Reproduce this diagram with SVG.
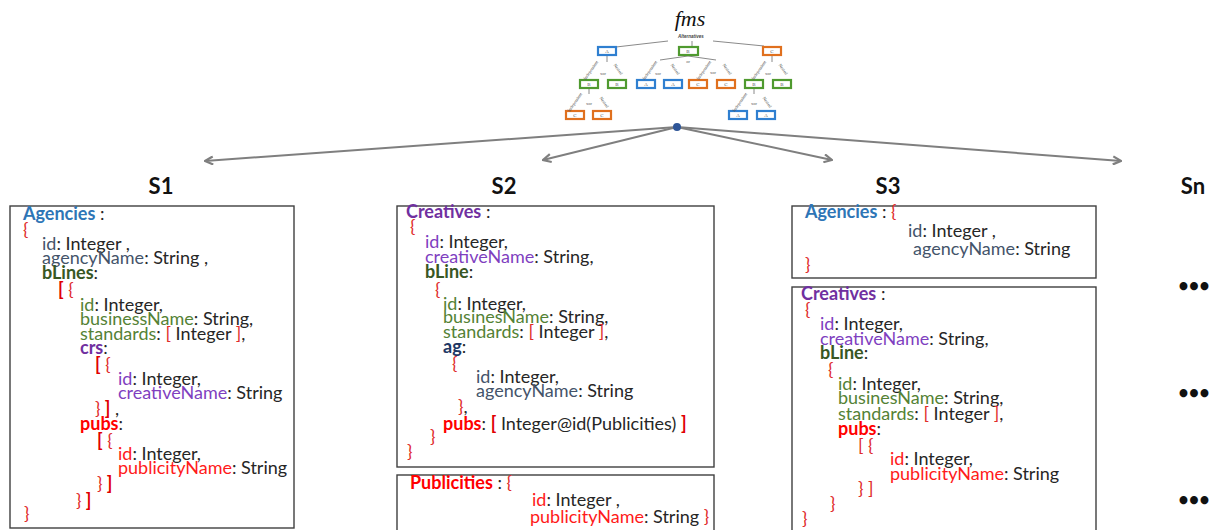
<svg xmlns="http://www.w3.org/2000/svg" width="1215" height="530" viewBox="0 0 1215 530">
<defs>
<marker id="ah" viewBox="0 0 10 10" refX="9" refY="5" markerWidth="5" markerHeight="5" orient="auto" markerUnits="strokeWidth">
<path d="M1,1 L9,5 L1,9" fill="none" stroke="#7f7f7f" stroke-width="2.2" stroke-linejoin="miter"/>
</marker>
<style>
.t{font-family:Lato,"Liberation Sans",sans-serif;font-size:18px;fill:#262626}
.hd{font-family:Lato,"Liberation Sans",sans-serif;font-size:22px;font-weight:bold;fill:#111}
.agT{fill:#2e75b6;font-weight:bold}
.ag{fill:#44546a}
.agB{fill:#1f3864;font-weight:bold}
.bl{fill:#385723;font-weight:bold}
.bf{fill:#548235}
.crT{fill:#7030a0;font-weight:bold}
.cf{fill:#7f3fbf}
.pb{fill:#ff0000;font-weight:bold}
.pf{fill:#ff1a1a}
.br{fill:#e02b2b}
.bk{fill:#e00000;font-weight:bold}
.box{fill:#fff;stroke:#3f3f3f;stroke-width:1.4}
.conn{stroke:#7f7f7f;stroke-width:2;fill:none}
.tb{fill:#fff;stroke-width:2.2}
.tbA{stroke:#2f7fd0}
.tbB{stroke:#4f9a2f}
.tbC{stroke:#e0701e}
.tl{font-family:"Liberation Serif",serif;font-size:5px;fill:#555;text-anchor:middle}
.tx{font-family:"Liberation Serif",serif;font-size:4.5px;fill:#555;text-anchor:middle}
.tr{stroke:#8a8a8a;stroke-width:1;fill:none}
.dots{font-family:Lato,"Liberation Sans",sans-serif;font-size:18px;font-weight:bold;fill:#111}
</style>
</defs>
<rect width="1215" height="530" fill="#fff"/>

<g id="fms-tree">
<text x="690" y="26" font-family="Liberation Serif,serif" font-style="italic" font-size="22" text-anchor="middle" fill="#111">fms</text>
<text x="691" y="38" font-family="Liberation Sans,sans-serif" font-style="italic" font-weight="bold" font-size="4.5" text-anchor="middle" fill="#444">Alternatives</text>
<path class="tr" d="M668,41 L616,47 M713,41 L764,46 M692,41 L692,47"/>
<path class="tr" d="M607,56 L607,62 M772,56 L772,62 M589,89 L589,94 M754,89 L754,94 M688,56 L660,60 M688,56 L716,60"/>
<g id="t-A"><rect class="tb tbA" x="598" y="47" width="18" height="8"/><text class="tl" x="607" y="53">A</text></g>
<g id="t-B"><rect class="tb tbB" x="679" y="47" width="19" height="8"/><text class="tl" x="688" y="53">B</text></g>
<g id="t-C"><rect class="tb tbC" x="763" y="47" width="18" height="8"/><text class="tl" x="772" y="53">C</text></g>
<text class="tx" x="688" y="63">or</text>
<g id="t-l2">
<rect class="tb tbB" x="580" y="80" width="18" height="8"/><text class="tl" x="589" y="86">B</text>
<rect class="tb tbB" x="608" y="80" width="18" height="8"/><text class="tl" x="617" y="86">B</text>
<rect class="tb tbA" x="637" y="80" width="18" height="8"/><text class="tl" x="646" y="86">A</text>
<rect class="tb tbA" x="664" y="80" width="18" height="8"/><text class="tl" x="673" y="86">A</text>
<rect class="tb tbC" x="689" y="80" width="18" height="8"/><text class="tl" x="698" y="86">C</text>
<rect class="tb tbC" x="717" y="80" width="18" height="8"/><text class="tl" x="726" y="86">C</text>
<rect class="tb tbB" x="745" y="80" width="18" height="8"/><text class="tl" x="754" y="86">B</text>
<rect class="tb tbB" x="773" y="80" width="18" height="8"/><text class="tl" x="782" y="86">B</text>
</g>
<g id="t-l3">
<rect class="tb tbC" x="566" y="111" width="18" height="8"/><text class="tl" x="575" y="117">C</text>
<rect class="tb tbC" x="593" y="111" width="18" height="8"/><text class="tl" x="602" y="117">C</text>
<rect class="tb tbA" x="729" y="111" width="18" height="8"/><text class="tl" x="738" y="117">A</text>
<rect class="tb tbA" x="757" y="111" width="18" height="8"/><text class="tl" x="766" y="117">A</text>
</g>
<g id="t-labels">
<text class="tx" x="603" y="75">xor</text>
<text class="tx" x="658" y="75">xor</text>
<text class="tx" x="713" y="74">xor</text>
<text class="tx" x="768" y="75">xor</text>
<text class="tx" x="589" y="105">xor</text>
<text class="tx" x="754" y="105">xor</text>
<text class="tx" transform="translate(592,71) rotate(-55)">Independent</text>
<text class="tx" transform="translate(617,70) rotate(55)">Nested</text>
<text class="tx" transform="translate(651,71) rotate(-55)">Independent</text>
<text class="tx" transform="translate(674,70) rotate(55)">Nested</text>
<text class="tx" transform="translate(705,71) rotate(-55)">Independent</text>
<text class="tx" transform="translate(726,70) rotate(55)">Nested</text>
<text class="tx" transform="translate(760,71) rotate(-55)">Independent</text>
<text class="tx" transform="translate(782,70) rotate(55)">Nested</text>
<text class="tx" transform="translate(576,103) rotate(-55)">Independent</text>
<text class="tx" transform="translate(603,103) rotate(55)">Nested</text>
<text class="tx" transform="translate(741,103) rotate(-55)">Independent</text>
<text class="tx" transform="translate(766,103) rotate(55)">Nested</text>
</g>
</g>

<g id="connectors">
<line class="conn" x1="677" y1="127" x2="205" y2="161" marker-end="url(#ah)"/>
<line class="conn" x1="677" y1="127" x2="543" y2="160" marker-end="url(#ah)"/>
<line class="conn" x1="677" y1="127" x2="832" y2="160" marker-end="url(#ah)"/>
<line class="conn" x1="677" y1="127" x2="1121" y2="161" marker-end="url(#ah)"/>
<circle cx="677" cy="127" r="4" fill="#2e5597"/>
</g>

<g id="S1">
<text class="hd" x="161" y="194" text-anchor="middle">S1</text>
<rect class="box" x="10" y="206" width="284" height="322"/>
<text class="t">
<tspan x="23" y="220"><tspan class="agT">Agencies</tspan> :</tspan>
<tspan x="23" y="236" class="br">{</tspan>
<tspan x="42" y="250"><tspan class="ag">id</tspan>: Integer ,</tspan>
<tspan x="42" y="264"><tspan class="ag">agencyName</tspan>: String ,</tspan>
<tspan x="42" y="279"><tspan class="bl">bLines</tspan>:</tspan>
<tspan x="58" y="296"><tspan class="bk">[</tspan><tspan class="br"> {</tspan></tspan>
<tspan x="80" y="311"><tspan class="bf">id</tspan>: Integer,</tspan>
<tspan x="80" y="325"><tspan class="bf">businessName</tspan>: String,</tspan>
<tspan x="80" y="340"><tspan class="bf">standards</tspan>: <tspan class="br">[</tspan> Integer <tspan class="br">]</tspan>,</tspan>
<tspan x="80" y="354"><tspan class="crT">crs</tspan>:</tspan>
<tspan x="95" y="371"><tspan class="bk">[</tspan><tspan class="br"> {</tspan></tspan>
<tspan x="118" y="385"><tspan class="cf">id</tspan>: Integer,</tspan>
<tspan x="118" y="399"><tspan class="cf">creativeName</tspan>: String</tspan>
<tspan x="95" y="415"><tspan class="br">}</tspan><tspan class="bk"> ]</tspan> ,</tspan>
<tspan x="80" y="430"><tspan class="pb">pubs</tspan>:</tspan>
<tspan x="97" y="447"><tspan class="bk">[</tspan><tspan class="br"> {</tspan></tspan>
<tspan x="118" y="460"><tspan class="pf">id</tspan>: Integer,</tspan>
<tspan x="118" y="474"><tspan class="pf">publicityName</tspan>: String</tspan>
<tspan x="97" y="490"><tspan class="br">}</tspan><tspan class="bk"> ]</tspan></tspan>
<tspan x="76" y="507"><tspan class="br">}</tspan><tspan class="bk"> ]</tspan></tspan>
<tspan x="24" y="520" class="br">}</tspan>
</text>
</g>

<g id="S2">
<text class="hd" x="504" y="194" text-anchor="middle">S2</text>
<rect class="box" x="397" y="206" width="317" height="261"/>
<text class="t">
<tspan x="406" y="218"><tspan class="crT">Creatives</tspan> :</tspan>
<tspan x="410" y="233" class="br">{</tspan>
<tspan x="425" y="248"><tspan class="cf">id</tspan>: Integer,</tspan>
<tspan x="425" y="263"><tspan class="cf">creativeName</tspan>: String,</tspan>
<tspan x="425" y="278"><tspan class="bl">bLine</tspan>:</tspan>
<tspan x="435" y="296" class="br">{</tspan>
<tspan x="443" y="310"><tspan class="bf">id</tspan>: Integer,</tspan>
<tspan x="443" y="323"><tspan class="bf">businesName</tspan>: String,</tspan>
<tspan x="443" y="338"><tspan class="bf">standards</tspan>: <tspan class="br">[</tspan> Integer <tspan class="br">]</tspan>,</tspan>
<tspan x="443" y="353"><tspan class="agB">ag</tspan>:</tspan>
<tspan x="452" y="370" class="br">{</tspan>
<tspan x="476" y="383"><tspan class="ag">id</tspan>: Integer,</tspan>
<tspan x="476" y="397"><tspan class="ag">agencyName</tspan>: String</tspan>
<tspan x="458" y="413"><tspan class="br">}</tspan>,</tspan>
<tspan x="443" y="430"><tspan class="pb">pubs</tspan>: <tspan class="bk">[</tspan> Integer@id(Publicities) <tspan class="bk">]</tspan></tspan>
<tspan x="430" y="443" class="br">}</tspan>
<tspan x="407" y="458" class="br">}</tspan>
</text>
</g>

<g id="S2-publicities">
<rect class="box" x="397" y="475" width="317" height="70"/>
<text class="t">
<tspan x="410" y="489"><tspan class="pb">Publicities</tspan> : <tspan class="br">{</tspan></tspan>
<tspan x="532" y="506"><tspan class="pf">id</tspan>: Integer ,</tspan>
<tspan x="530" y="523"><tspan class="pf">publicityName</tspan>: String <tspan class="br">}</tspan></tspan>
</text>
</g>

<g id="S3">
<text class="hd" x="888" y="194" text-anchor="middle">S3</text>
</g>

<g id="S3-agencies">
<rect class="box" x="792" y="206" width="304" height="72"/>
<text class="t">
<tspan x="805" y="218"><tspan class="agT">Agencies</tspan> : <tspan class="br">{</tspan></tspan>
<tspan x="908" y="237"><tspan class="ag">id</tspan>: Integer ,</tspan>
<tspan x="913" y="255"><tspan class="ag">agencyName</tspan>: String</tspan>
<tspan x="805" y="271" class="br">}</tspan>
</text>
</g>

<g id="S3-creatives">
<rect class="box" x="792" y="287" width="304" height="260"/>
<text class="t">
<tspan x="801" y="300"><tspan class="crT">Creatives</tspan> :</tspan>
<tspan x="805" y="316" class="br">{</tspan>
<tspan x="820" y="330"><tspan class="cf">id</tspan>: Integer,</tspan>
<tspan x="820" y="345"><tspan class="cf">creativeName</tspan>: String,</tspan>
<tspan x="820" y="359"><tspan class="bl">bLine</tspan>:</tspan>
<tspan x="828" y="376" class="br">{</tspan>
<tspan x="838" y="390"><tspan class="bf">id</tspan>: Integer,</tspan>
<tspan x="838" y="404"><tspan class="bf">businesName</tspan>: String,</tspan>
<tspan x="838" y="420"><tspan class="bf">standards</tspan>: <tspan class="br">[</tspan> Integer <tspan class="br">]</tspan>,</tspan>
<tspan x="838" y="435"><tspan class="pb">pubs</tspan>:</tspan>
<tspan x="858" y="452" class="br">[ {</tspan>
<tspan x="890" y="465"><tspan class="pf">id</tspan>: Integer,</tspan>
<tspan x="890" y="480"><tspan class="pf">publicityName</tspan>: String</tspan>
<tspan x="858" y="495" class="br">} ]</tspan>
<tspan x="830" y="510" class="br">}</tspan>
<tspan x="802" y="525" class="br">}</tspan>
</text>
</g>

<g id="Sn">
<text class="hd" x="1193" y="194" text-anchor="middle">Sn</text>
<text class="dots" x="1194" y="292" text-anchor="middle">•••</text>
<text class="dots" x="1194" y="399" text-anchor="middle">•••</text>
<text class="dots" x="1194" y="506" text-anchor="middle">•••</text>
</g>
</svg>
